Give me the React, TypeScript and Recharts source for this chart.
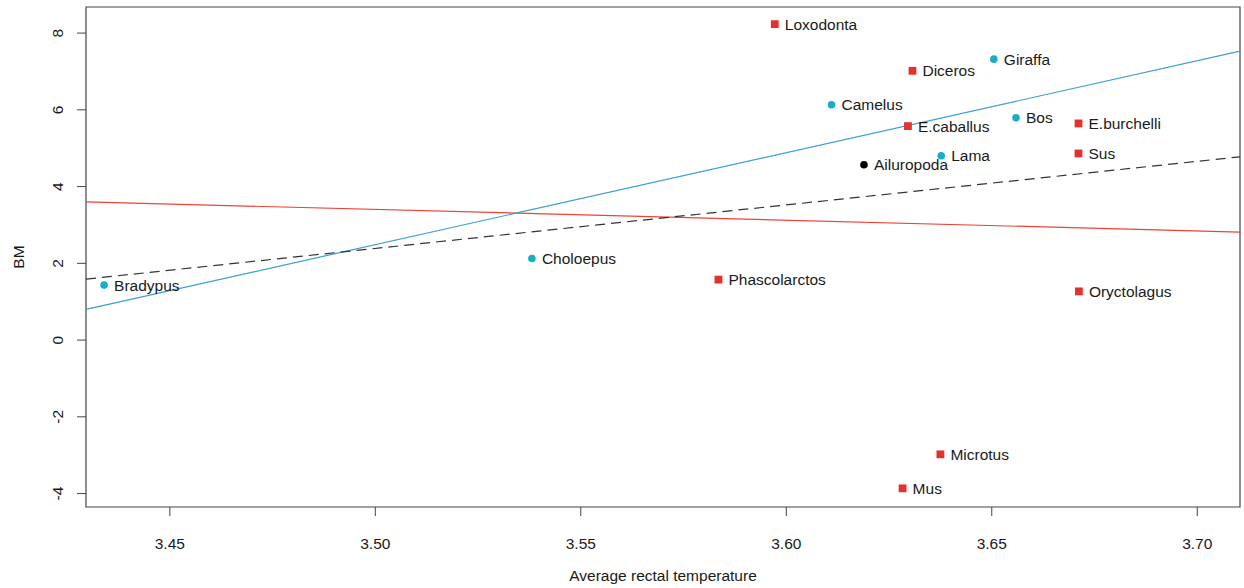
import React from 'react';
import { ScatterChart, Scatter, XAxis, YAxis, ReferenceLine, ReferenceArea } from 'recharts';

const cyanNames = ['Giraffa', 'Camelus', 'Bos', 'Lama', 'Bradypus', 'Choloepus'];
const cyanX = [3.6505, 3.611, 3.6559, 3.6377, 3.434, 3.5381];
const cyanY = [7.321, 6.131, 5.792, 4.802, 1.433, 2.124];

const redNames = ['Loxodonta', 'Diceros', 'E.caballus', 'E.burchelli', 'Sus', 'Phascolarctos', 'Oryctolagus', 'Microtus', 'Mus'];
const redX = [3.5972, 3.6307, 3.6296, 3.6711, 3.6711, 3.5835, 3.6712, 3.6375, 3.6283];
const redY = [8.233, 7.017, 5.576, 5.646, 4.864, 1.576, 1.269, -2.978, -3.864];

const blackNames = ['Ailuropoda'];
const blackX = [3.6189];
const blackY = [4.568];

const xDomain = [3.4296, 3.7104];
const yDomain = [-4.35, 8.68];
const xTicks = [3.45, 3.5, 3.55, 3.6, 3.65, 3.7];
const yTicks = [-4, -2, 0, 2, 4, 6, 8];

const redLineY = [3.603, 2.814];
const blueLineY = [0.8, 7.53];
const dashLineY = [1.589, 4.776];

const FONT = '"Liberation Sans", Arial, Helvetica, sans-serif';
const FS = 15.5;
const TXT = '#1a1a1a';
const CYAN = '#1aaec6';
const RED = '#e2312f';

const build = (names: string[], xs: number[], ys: number[]) =>
  names.map((n, i) => ({ name: n, x: xs[i], y: ys[i] }));

const cyanData = build(cyanNames, cyanX, cyanY);
const redData = build(redNames, redX, redY);
const blackData = build(blackNames, blackX, blackY);

const makeShape = (kind: 'circle' | 'square', color: string) => (props: any) => {
  const { cx, cy, payload } = props;
  if (cx == null || cy == null) return <g />;
  return (
    <g>
      {kind === 'circle' ? (
        <circle cx={cx} cy={cy} r={3.8} fill={color} />
      ) : (
        <rect x={cx - 3.9} y={cy - 3.9} width={7.8} height={7.8} fill={color} />
      )}
      <text
        x={cx + 10}
        y={cy}
        dy="0.36em"
        fontFamily={FONT}
        fontSize={FS}
        fill={TXT}
      >
        {payload.name}
      </text>
    </g>
  );
};

const XTick = (props: any) => {
  const { x, payload } = props;
  return (
    <text x={x} y={548.5} textAnchor="middle" fontFamily={FONT} fontSize={FS} fill={TXT}>
      {payload.value.toFixed(2)}
    </text>
  );
};

const YTick = (props: any) => {
  const { y, payload } = props;
  const bx = 63.5;
  return (
    <text
      x={bx}
      y={y}
      transform={`rotate(-90 ${bx} ${y})`}
      textAnchor="middle"
      fontFamily={FONT}
      fontSize={FS}
      fill={TXT}
    >
      {String(payload.value)}
    </text>
  );
};

export default function App() {
  return (
    <div style={{ position: 'absolute', left: 0, top: 0, background: '#fff' }}>
      <ScatterChart width={1244} height={588} margin={{ top: 7, right: 4, bottom: 0, left: 0 }}>
        <XAxis
          type="number"
          dataKey="x"
          domain={xDomain}
          ticks={xTicks}
          allowDataOverflow
          height={81}
          axisLine={false}
          tickLine={{ stroke: '#444' }}
          tickSize={9}
          tick={<XTick />}
          interval={0}
          label={(p: any) => (
            <text x={663} y={580.5} textAnchor="middle" fontFamily={FONT} fontSize={FS} fill={TXT}>
              Average rectal temperature
            </text>
          )}
        />
        <YAxis
          type="number"
          dataKey="y"
          domain={yDomain}
          ticks={yTicks}
          allowDataOverflow
          width={86}
          axisLine={false}
          tickLine={{ stroke: '#444' }}
          tickSize={9}
          tick={<YTick />}
          interval={0}
          label={(p: any) => (
            <text
              x={24}
              y={257}
              transform="rotate(-90 24 257)"
              textAnchor="middle"
              fontFamily={FONT}
              fontSize={FS}
              fill={TXT}
            >
              BM
            </text>
          )}
        />
        <ReferenceArea
          x1={xDomain[0]}
          x2={xDomain[1]}
          y1={yDomain[0]}
          y2={yDomain[1]}
          fill="none"
          fillOpacity={0}
          stroke="#444"
          strokeWidth={1.2}
          ifOverflow="visible"
        />
        <ReferenceLine
          segment={[{ x: xDomain[0], y: redLineY[0] }, { x: xDomain[1], y: redLineY[1] }]}
          stroke="#ec4338"
          strokeWidth={1.2}
          ifOverflow="visible"
        />
        <ReferenceLine
          segment={[{ x: xDomain[0], y: blueLineY[0] }, { x: xDomain[1], y: blueLineY[1] }]}
          stroke="#3a9fd6"
          strokeWidth={1.2}
          ifOverflow="visible"
        />
        <ReferenceLine
          segment={[{ x: xDomain[0], y: dashLineY[0] }, { x: xDomain[1], y: dashLineY[1] }]}
          stroke="#333"
          strokeWidth={1.2}
          strokeDasharray="10 6"
          ifOverflow="visible"
        />
        <Scatter data={cyanData} shape={makeShape('circle', CYAN)} isAnimationActive={false} />
        <Scatter data={redData} shape={makeShape('square', RED)} isAnimationActive={false} />
        <Scatter data={blackData} shape={makeShape('circle', '#000')} isAnimationActive={false} />
      </ScatterChart>
    </div>
  );
}
